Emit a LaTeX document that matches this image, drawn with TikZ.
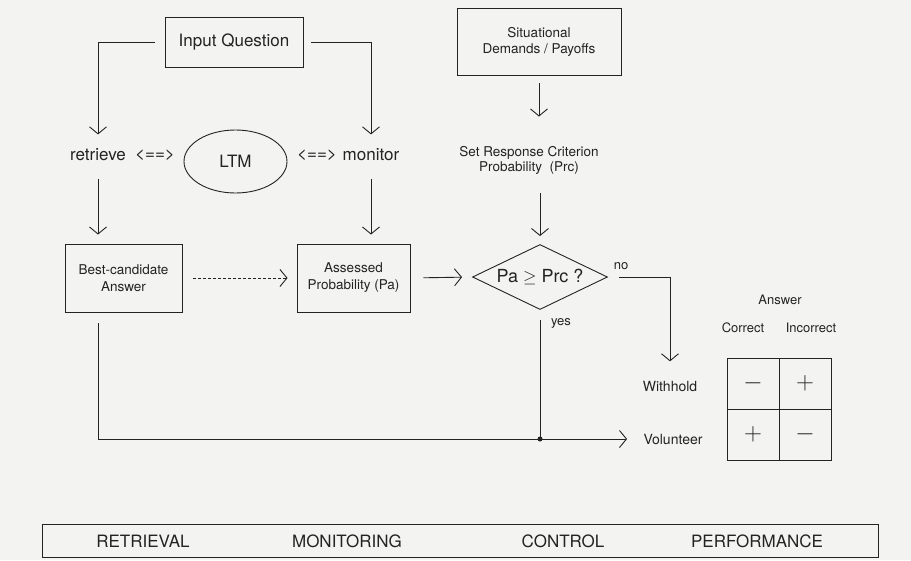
\documentclass[tikz,border=0pt]{standalone}
\usepackage{fontspec}
\setmainfont{TeX Gyre Heros}
\usepackage{tikz}
\usetikzlibrary{shapes.geometric,arrows.meta,calc}
\definecolor{paper}{RGB}{243,243,241}
\definecolor{ink}{RGB}{35,35,35}
\newcommand{\fsz}[2]{\fontsize{#1}{#2}\selectfont}

\begin{document}
\begin{tikzpicture}
[x=1pt,y=-1pt,ink,line width=0.9pt,
	box/.style={draw,rectangle,inner sep=0pt,align=center},
	lbl/.style={inner sep=0pt,align=center},
	flow/.style={-{Straight Barb[length=7pt,width=17pt]}},
	cell/.style={draw,minimum width=52pt,minimum height=51pt,inner sep=0pt,font=\fsz{24}{24}}]
\fill[paper] (0,0) rectangle (911,560);
\useasboundingbox (0,0) rectangle (911,560);

% upper row
\node[box,minimum width=138pt,minimum height=50pt,font=\fsz{17}{20}] (iq) at (234,42) {Input Question};
\node[box,minimum width=164pt,minimum height=67pt,font=\fsz{13.5}{16}] (sd) at (539,41.5) {Situational\\Demands / Payoffs};
\node[lbl,font=\fsz{17}{20}] (ret) at (98,155) {retrieve};
\node[lbl,font=\fsz{17}{20}] (rl) at (155,155) {<==>};
\node[draw,ellipse,minimum width=103pt,minimum height=63pt,inner sep=0pt,font=\fsz{17}{20}] (ltm) at (235.5,161.5) {LTM};
\node[lbl,font=\fsz{17}{20}] (ml) at (317,155) {<==>};
\node[lbl,font=\fsz{17}{20}] (mon) at (371,155) {monitor};
\node[lbl,font=\fsz{13.5}{15}] (src) at (529,160) {Set Response Criterion\\Probability\ \ (Prc)};

% middle row
\node[box,minimum width=117pt,minimum height=68pt,font=\fsz{13.5}{17}] (bc) at (123.5,278) {Best-candidate\\Answer};
\node[box,minimum width=113pt,minimum height=68pt,font=\fsz{13.5}{17}] (ap) at (353.5,278) {Assessed\\Probability (Pa)};
\node[draw,diamond,aspect=2,minimum width=135pt,minimum height=65pt,inner sep=0pt,font=\fsz{18}{20}] (dec) at (540,277) {Pa $\geq$ Prc ?};
\node[lbl,font=\fsz{13}{15}] (no) at (621,266) {no};
\node[lbl,font=\fsz{13}{15}] (yes) at (561,323) {yes};

% outcome and payoff table
\node[lbl,font=\fsz{14}{16}] (wh) at (670,386) {Withhold};
\node[lbl,font=\fsz{14}{16}] (vol) at (673,439) {Volunteer};
\node[lbl,font=\fsz{13}{15}] (ans) at (780,300) {Answer};
\node[lbl,font=\fsz{13}{15}] (cor) at (743,328) {Correct};
\node[lbl,font=\fsz{13}{15}] (inc) at (811,328) {Incorrect};
\node[cell] (c11) at (753,383.5) {$-$};
\node[cell] (c12) at (805,383.5) {$+$};
\node[cell] (c21) at (753,434.5) {$+$};
\node[cell] (c22) at (805,434.5) {$-$};

% stages
\node[draw,minimum width=836pt,minimum height=33pt,inner sep=0pt] (bar) at (460,541) {};
\foreach \lab/\xpos in {RETRIEVAL/143,MONITORING/347,CONTROL/563,PERFORMANCE/757}
{
	\node[lbl,font=\fsz{17}{20}] (\lab) at (\xpos,541) {\lab};
}

% connectors
\draw[flow,shorten <=10pt,shorten >=14pt] (iq.west) -| (ret.north);
\draw[flow,shorten <=8pt,shorten >=14pt] (iq.east) -| (mon.north);
\draw[flow,shorten <=17pt,shorten >=9pt] (ret.south) -- (ret.south |- bc.north);
\draw[flow,shorten <=17pt,shorten >=9pt] (mon.south) -- (mon.south |- ap.north);
\draw[flow,dash pattern=on 3pt off 2pt,shorten <=11pt,shorten >=9pt] (bc.east) -- (ap.west);
\draw[flow,shorten <=13pt,shorten >=10pt] (ap.east) -- (dec.west);
\draw[flow,shorten <=8pt,shorten >=29pt] (sd.south) -- (sd.south |- src.north);
\draw[flow,shorten <=19pt,shorten >=8pt] (src.south -| dec.north) -- (dec.north);
\draw[flow,shorten <=11pt,shorten >=19pt] (dec.east) -| (wh.north);
\coordinate (j) at (dec.south |- vol);
\draw[shorten <=10pt] (dec.south) -- (j);
\draw[flow,shorten <=11pt,shorten >=16pt] (bc.south -| ret) |- (vol.west);
\fill (j) circle (2.5pt);
\end{tikzpicture}
\end{document}
